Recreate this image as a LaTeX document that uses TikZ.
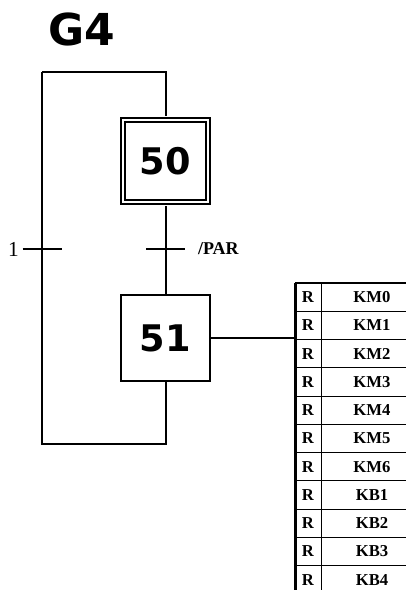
\documentclass[tikz,border=0pt]{standalone}
\usepackage{fontspec}
\setmainfont{Liberation Serif}
\setsansfont{DejaVu Sans}
\usetikzlibrary{positioning}

\begin{document}
\begin{tikzpicture}[
  x=0.75pt, y=-0.75pt, line width=1.5pt,
  etape/.style={draw, minimum width=66.75pt, minimum height=64.5pt, inner sep=0pt,
                font=\sffamily\bfseries\fontsize{27.5}{27.5}\selectfont},
  etapeinit/.style={etape, double, double distance=1.5pt,
                    minimum width=63.75pt, minimum height=61.5pt},
  trans/.style={minimum width=27.75pt, minimum height=0pt, inner sep=0pt},
  recep/.style={font=\bfseries\fontsize{13.5}{13.5}\selectfont, inner sep=2pt},
  celR/.style={draw, line width=0.75pt, outer sep=0pt, inner sep=0pt,
               minimum width=19.5pt, minimum height=21.2pt,
               font=\bfseries\fontsize{12.5}{12.5}\selectfont},
  celA/.style={celR, minimum width=76.5pt},
]
\useasboundingbox (0,0) rectangle (406,590);

% --- titre et etapes ---
\node[font=\sffamily\bfseries\fontsize{33}{33}\selectfont] (titre) at (82,29) {G4};
\node[etapeinit] (e50) at (165.5,161) {50};
\node[etape] (e51) at (165.5,338) {51};

% --- transitions ---
\node[trans] (t50) at (165.5,249) {};
\node[trans] (t1) at (42,249) {};
\draw (t50.west) -- (t50.east);
\draw (t1.west) -- (t1.east);
\node[recep, right=7pt of t50] (r50) {/PAR};
\node[font=\fontsize{16}{16}\selectfont, inner sep=1pt, left=1pt of t1] (r1) {1};

% --- liaisons ---
\coordinate (haut) at (42,72);
\coordinate (bas) at (42,444);
\draw[shorten <=2.25pt] (e50.south) -- (e51.north);
\draw (e51.south) |- (bas) -- (haut);
\draw[shorten >=2.25pt] (haut) -| (e50.north);

% --- actions ---
\begin{scope}
\clip (0,0) rectangle (406,590);
\node[celR, anchor=north west] (r0) at (295,283) {R};
\node[celA, right=0pt of r0] (a0) {KM0};
\foreach \nom [count=\i from 1] in {KM1,KM2,KM3,KM4,KM5,KM6,KB1,KB2,KB3,KB4} {
  \pgfmathtruncatemacro\j{\i-1}
  \node[celR, below=0pt of r\j] (r\i) {R};
  \node[celA, right=0pt of r\i] (a\i) {\nom};
}
\draw[line width=2.25pt] (r0.north west) -- (r10.south west);
\draw[line width=2pt] (r0.north west) -- (a0.north east);
\end{scope}
\draw (e51.east) -- (e51.east -| r0.west);
\end{tikzpicture}
\end{document}
